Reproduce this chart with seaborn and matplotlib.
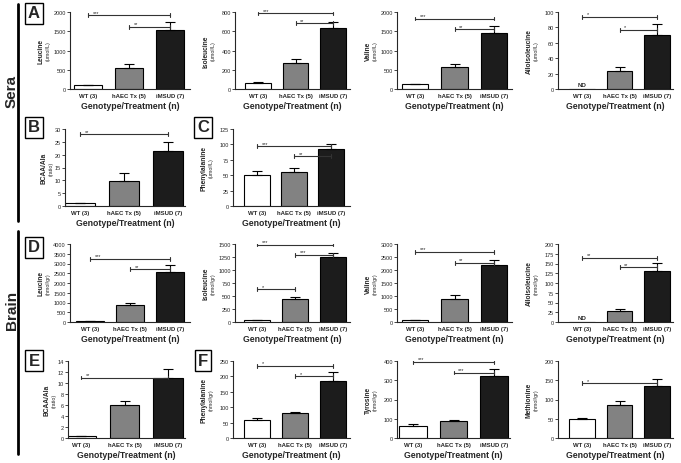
import numpy as np
import pandas as pd
import matplotlib
matplotlib.use("Agg")
import matplotlib.pyplot as plt
import seaborn as sns

# Groups and bar colours
groups = ["WT (3)", "hAEC Tx (5)", "iMSUD (7)"]
bar_colors = ["#ffffff", "#828282", "#1c1c1c"]

# ---- Sera ----
leu_sera = [100, 550, 1530]
leu_sera_err = [15, 100, 220]
ile_sera = [60, 275, 630]
ile_sera_err = [8, 35, 70]
val_sera = [120, 570, 1450]
val_sera_err = [20, 80, 180]
allo_sera = [0, 24, 70]
allo_sera_err = [0, 4, 14]
bcaa_sera = [1.0, 9.8, 21.5]
bcaa_sera_err = [0.2, 3.2, 3.5]
phe_sera = [50, 56, 92]
phe_sera_err = [7, 5, 9]

# ---- Brain ----
leu_brain = [60, 850, 2560]
leu_brain_err = [10, 150, 350]
ile_brain = [30, 450, 1250]
ile_brain_err = [5, 40, 75]
val_brain = [80, 900, 2180]
val_brain_err = [10, 120, 220]
allo_brain = [0, 28, 130]
allo_brain_err = [0, 6, 22]
bcaa_brain = [0.3, 6.0, 11.0]
bcaa_brain_err = [0.05, 0.8, 1.6]
phe_brain = [58, 80, 185]
phe_brain_err = [7, 6, 28]
tyr_brain = [62, 88, 322]
tyr_brain_err = [10, 8, 38]
met_brain = [50, 85, 135]
met_brain_err = [2, 12, 18]

# significance brackets: (from group, to group, height, stars)
sig_leu_sera = [(0, 2, 1920, "***"), (1, 2, 1620, "**")]
sig_ile_sera = [(0, 2, 785, "***"), (1, 2, 685, "**")]
sig_val_sera = [(0, 2, 1830, "***"), (1, 2, 1560, "**")]
sig_allo_sera = [(0, 2, 94, "*"), (1, 2, 77, "*")]
sig_bcaa_sera = [(0, 2, 28, "**")]
sig_phe_sera = [(0, 2, 97, "***"), (1, 2, 81, "**")]
sig_leu_brain = [(0, 2, 3250, "***"), (1, 2, 2700, "**")]
sig_ile_brain = [(0, 2, 1490, "***"), (1, 2, 1295, "***"), (0, 1, 630, "*")]
sig_val_brain = [(0, 2, 2700, "***"), (1, 2, 2280, "**")]
sig_allo_brain = [(0, 2, 165, "**"), (1, 2, 140, "**")]
sig_bcaa_brain = [(0, 2, 11.0, "**")]
sig_phe_brain = [(0, 2, 235, "*"), (1, 2, 200, "*")]
sig_tyr_brain = [(0, 2, 397, "***"), (1, 2, 340, "***")]
sig_met_brain = [(0, 2, 143, "*")]

W, H = 681, 464
sns.set_style("ticks")
plt.rcParams["font.family"] = ["Liberation Sans", "DejaVu Sans"]
fig = plt.figure(figsize=(W / 100, H / 100), dpi=100)


def draw_panel(box, centers, name, units, mean, err, ymax, step, sigs, nd=False):
    L, R, T, B = box
    ax = fig.add_axes([L / W, 1 - B / H, (R - L) / W, (B - T) / H])
    df = pd.DataFrame({"group": groups, "value": mean})
    sns.barplot(data=df, x="group", y="value", hue="group", palette=bar_colors,
                edgecolor="black", linewidth=0.8, width=0.68, errorbar=None,
                legend=False, ax=ax)
    idx = [i for i in range(3) if not (nd and i == 0)]
    ax.errorbar(idx, [mean[i] for i in idx],
                yerr=[[0] * len(idx), [err[i] for i in idx]],
                fmt="none", ecolor="black", elinewidth=0.8, capsize=3.5, capthick=0.8)
    c0, c2 = centers
    s = (c2 - c0) / 2
    ax.set_xlim(-(c0 - L) / s, 2 + (R - c2) / s)
    ax.set_ylim(0, ymax)
    ax.set_yticks(np.arange(0, ymax + step / 2, step))
    ax.set_xlabel("Genotype/Treatment (n)", fontsize=6.3, fontweight="semibold", labelpad=2)
    ax.set_ylabel("")
    ax.tick_params(axis="y", length=2, width=0.6, labelsize=4, pad=1)
    ax.tick_params(axis="x", length=0, labelsize=4.3, pad=3)
    for t in ax.get_xticklabels():
        t.set_fontweight("bold")
    for sp in ["left", "bottom"]:
        ax.spines[sp].set_linewidth(0.8)
    sns.despine(ax=ax)
    # significance brackets
    d = 0.025 * ymax
    for i, j, y, stars in sigs:
        ax.plot([i, j], [y, y], color="#333333", lw=0.8)
        ax.plot([i, i], [y - d, y + d], color="#333333", lw=0.8)
        ax.plot([j, j], [y - d, y + d], color="#333333", lw=0.8)
        ax.text(i + 0.12, y + 0.005 * ymax, stars, fontsize=4, ha="left", va="bottom")
    if nd:
        ax.text(0, 0.02 * ymax, "ND", fontsize=4.5, fontweight="bold", ha="center", va="bottom")
    # two line y label
    ndig = len(str(int(ymax)))
    dx1, dx2 = (21, 14) if ndig <= 2 else (29, 22)
    yc = 1 - (T + B) / 2 / H
    fig.text((L - dx1) / W, yc, name, rotation=90, fontsize=4.8, fontweight="bold",
             ha="center", va="center")
    fig.text((L - dx2) / W, yc, units, rotation=90, fontsize=3.8,
             ha="center", va="center")
    return ax


# rows: top and bottom pixel of each axes row
r1, r2, r3, r4 = (13, 90), (130, 207), (245, 323), (362, 439)

draw_panel((70, 190, *r1), (88, 170), "Leucine", "(umol/L)", leu_sera, leu_sera_err, 2000, 500, sig_leu_sera)
draw_panel((235, 350, *r1), (258, 333), "Isoleucine", "(umol/L)", ile_sera, ile_sera_err, 800, 200, sig_ile_sera)
draw_panel((397, 512, *r1), (415, 494), "Valine", "(umol/L)", val_sera, val_sera_err, 2000, 500, sig_val_sera)
draw_panel((558, 673, *r1), (582, 657), "Alloisoleucine", "(umol/L)", allo_sera, allo_sera_err, 100, 20, sig_allo_sera, nd=True)
draw_panel((65, 185, *r2), (80, 168), "BCAA/Ala", "(ratio)", bcaa_sera, bcaa_sera_err, 30, 5, sig_bcaa_sera)
draw_panel((233, 350, *r2), (257, 331), "Phenylalanine", "(umol/L)", phe_sera, phe_sera_err, 125, 25, sig_phe_sera)

draw_panel((70, 190, *r3), (90, 170), "Leucine", "(nmol/gr)", leu_brain, leu_brain_err, 4000, 500, sig_leu_brain)
draw_panel((235, 350, *r3), (257, 333), "Isoleucine", "(nmol/gr)", ile_brain, ile_brain_err, 1500, 250, sig_ile_brain)
draw_panel((397, 512, *r3), (415, 494), "Valine", "(nmol/gr)", val_brain, val_brain_err, 3000, 500, sig_val_brain)
draw_panel((558, 673, *r3), (582, 657), "Alloisoleucine", "(nmol/gr)", allo_brain, allo_brain_err, 200, 25, sig_allo_brain, nd=True)
draw_panel((68, 185, *r4), (81, 168), "BCAA/Ala", "(ratio)", bcaa_brain, bcaa_brain_err, 14, 2, sig_bcaa_brain)
draw_panel((233, 350, *r4), (257, 333), "Phenylalanine", "(nmol/gr)", phe_brain, phe_brain_err, 250, 50, sig_phe_brain)
draw_panel((397, 510, *r4), (413, 494), "Tyrosine", "(nmol/gr)", tyr_brain, tyr_brain_err, 400, 100, sig_tyr_brain)
draw_panel((558, 673, *r4), (582, 657), "Methionine", "(nmol/gr)", met_brain, met_brain_err, 200, 50, sig_met_brain)

# section labels and side rules
fig.text(12 / W, 1 - 92 / H, "Sera", rotation=90, fontsize=11, fontweight="bold",
         ha="center", va="center")
fig.text(12 / W, 1 - 310 / H, "Brain", rotation=90, fontsize=11, fontweight="bold",
         ha="center", va="center")
fig.add_artist(plt.Line2D([18 / W, 18 / W], [1 - 5 / H, 1 - 222 / H], color="black", lw=2))
fig.add_artist(plt.Line2D([18 / W, 18 / W], [1 - 232 / H, 1 - 455 / H], color="black", lw=2))

# boxed panel letters
for letter, (x, y) in {"A": (34, 14), "B": (34, 128), "C": (203, 128),
                       "D": (34, 248), "E": (34, 361), "F": (203, 361)}.items():
    fig.text(x / W, 1 - y / H, letter, fontsize=12, fontweight="bold", ha="center", va="center",
             bbox=dict(boxstyle="square,pad=0.18", fc="white", ec="black", lw=1.0))

fig.savefig("out.png", dpi=100)
